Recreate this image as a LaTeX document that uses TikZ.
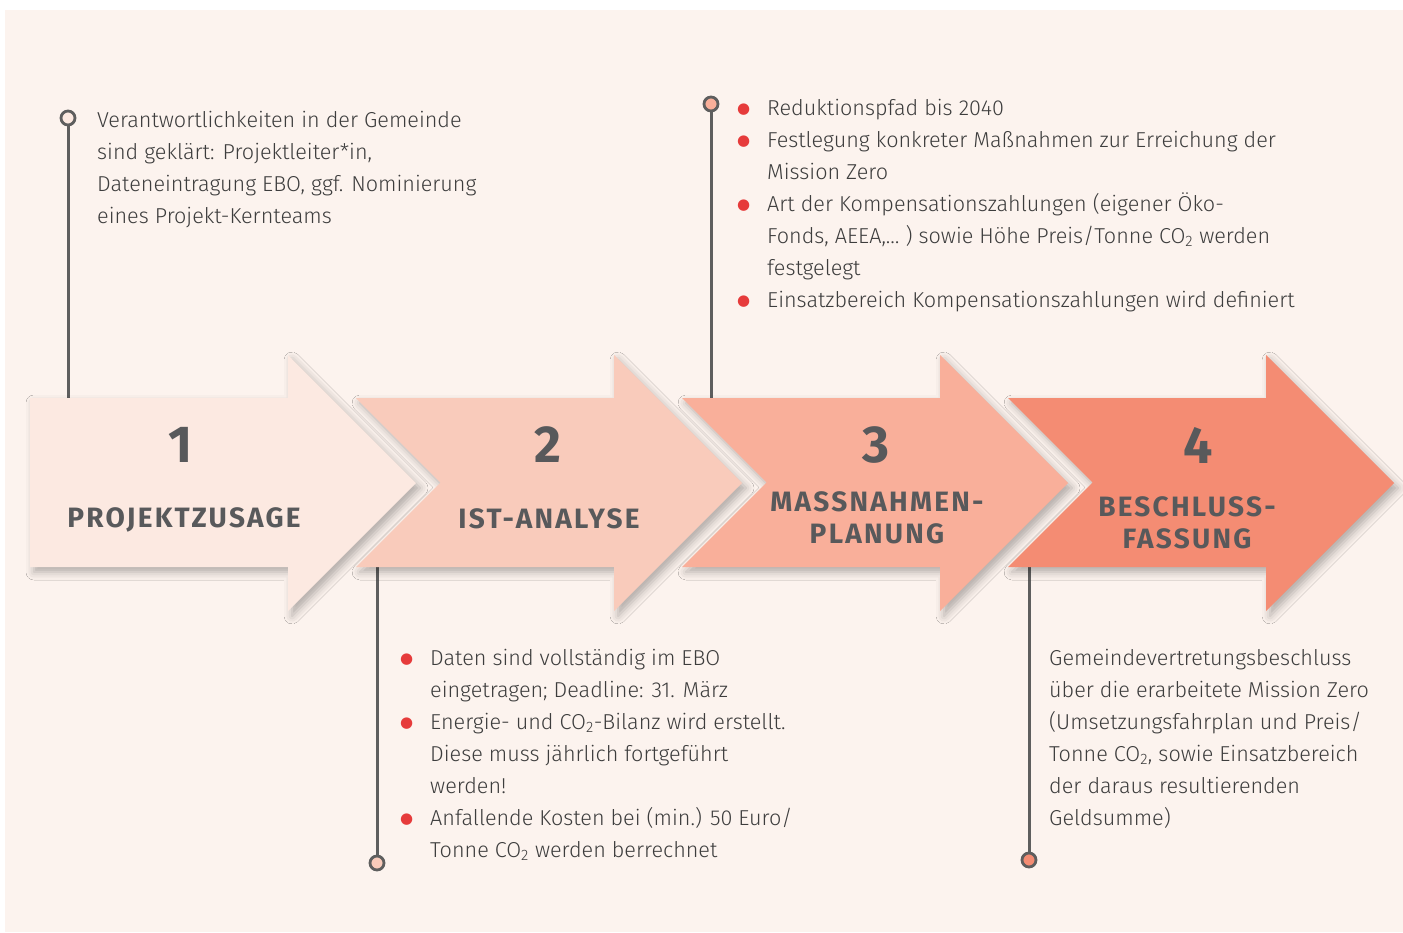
\documentclass[tikz,border=0pt]{standalone}
\usepackage{fontspec}
\IfFontExistsTF{Fira Sans Book}
  {\setmainfont{Fira Sans Book}[BoldFont=Fira Sans Bold]}
  {\IfFontExistsTF{Fira Sans Light}
    {\setmainfont{Fira Sans Light}[BoldFont=Fira Sans Bold]}
    {\setmainfont{Fira Sans}}}
\newfontfamily\headfont{Fira Sans}[LetterSpace=8]
\newfontfamily\dotfont{DejaVu Sans}
\usetikzlibrary{shadows.blur}

\definecolor{bgcream}{HTML}{FCF3EE}
\definecolor{stepone}{HTML}{FCE9E1}
\definecolor{steptwo}{HTML}{F9CBBB}
\definecolor{stepthree}{HTML}{F9AF9A}
\definecolor{stepfour}{HTML}{F48C73}
\definecolor{inkgray}{HTML}{58595B}
\definecolor{bodyink}{HTML}{3D3D3D}
\definecolor{bulletred}{HTML}{E63B3B}
\definecolor{stemgray}{HTML}{5E5E5E}

% one step of the process: left x, colour, depth of the notch
\newcommand{\arrowstep}[3]{%
  \fill[#2, arrowshadow] (#1,398) -- ++(258,0) -- ++(0,-43) -- ++(128,128)
    -- ++(-128,128) -- ++(0,-44) -- ++(-258,0) -- ++(#3,-84.5) -- cycle;
}
\newcommand{\bul}{\llap{\textcolor{bulletred}{\dotfont\fontsize{15}{15}\selectfont\raisebox{1.5pt}{●}}\hspace{17pt}}}

\tikzset{
  arrowshadow/.style={blur shadow={shadow xshift=4pt, shadow yshift=-5pt,
      shadow blur radius=8pt, shadow opacity=30}},
  stem/.style={stemgray, line width=3pt},
  dot/.style={circle, draw=stemgray, line width=2.8pt, minimum size=14pt, inner sep=0pt},
  numlabel/.style={inkgray, font=\headfont\bfseries\fontsize{52}{52}\selectfont},
  steplabel/.style={inkgray, align=center, font=\headfont\bfseries\fontsize{28}{32}\selectfont},
  textblock/.style={bodyink, align=left, inner sep=0pt, anchor=north west,
      font=\fontsize{21.6}{32}\selectfont},
}

\begin{document}
\begin{tikzpicture}[x=1pt, y=-1pt]
\useasboundingbox (0,0) rectangle (1403,932);
\fill[white] (0,0) rectangle (1403,932);
\fill[bgcream] (5,10) rectangle (1403,932);

% stems
\coordinate (s1) at (68,398);
\coordinate (s2) at (377,567);
\coordinate (s3) at (711,398);
\coordinate (s4) at (1029,567);
\node[dot, fill=stepone] (d1) at (68,118) {};
\node[dot, fill=steptwo] (d2) at (377,863) {};
\node[dot, fill=stepthree] (d3) at (711,104) {};
\node[dot, fill=stepfour] (d4) at (1029,860) {};
\draw[stem] (d1) -- (s1);
\draw[stem] (d2) -- (s2);
\draw[stem] (d3) -- (s3);
\draw[stem] (d4) -- (s4);

% arrows
\arrowstep{30}{stepone}{0}
\arrowstep{356}{steptwo}{84.5}
\arrowstep{682}{stepthree}{84.5}
\arrowstep{1008}{stepfour}{84.5}

\node[numlabel] (n1) at (181,445) {1};
\node[numlabel] (n2) at (548,445) {2};
\node[numlabel] (n3) at (876,445) {3};
\node[numlabel] (n4) at (1198,445) {4};
\node[steplabel] (t1) at (184,520) {PROJEKTZUSAGE};
\node[steplabel] (t2) at (549,519) {IST-ANALYSE};
\node[steplabel] (t3) at (877,518) {MASSNAHMEN-\\PLANUNG};
\node[steplabel] (t4) at (1187,523) {BESCHLUSS-\\FASSUNG};

% texts
\node[textblock] (b1) at (97,111) {Verantwortlichkeiten in der Gemeinde\\
  sind geklärt: Projektleiter*in,\\
  Dateneintragung EBO, ggf. Nominierung\\
  eines Projekt-Kernteams};
\node[textblock] (b3) at (767,99) {\bul Reduktionspfad bis 2040\\
  \bul Festlegung konkreter Maßnahmen zur Erreichung der\\
  Mission Zero\\
  \bul Art der Kompensationszahlungen (eigener Öko-\\
  Fonds, AEEA,… ) sowie Höhe Preis/Tonne CO\textsubscript{2} werden\\
  festgelegt\\
  \bul Einsatzbereich Kompensationszahlungen wird definiert};
\node[textblock] (b2) at (430,649) {\bul Daten sind vollständig im EBO\\
  eingetragen; Deadline: 31. März\\
  \bul Energie- und CO\textsubscript{2}-Bilanz wird erstellt.\\
  Diese muss jährlich fortgeführt\\
  werden!\\
  \bul Anfallende Kosten bei (min.) 50 Euro/\\
  Tonne CO\textsubscript{2} werden berrechnet};
\node[textblock] (b4) at (1049,649) {Gemeindevertretungsbeschluss\\
  über die erarbeitete Mission Zero\\
  (Umsetzungsfahrplan und Preis/\\
  Tonne CO\textsubscript{2}, sowie Einsatzbereich\\
  der daraus resultierenden\\
  Geldsumme)};
\end{tikzpicture}
\end{document}
